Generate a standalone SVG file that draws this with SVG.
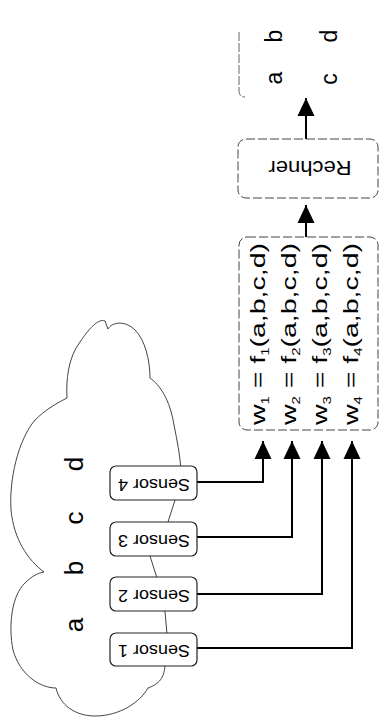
<svg xmlns="http://www.w3.org/2000/svg" width="379" height="727" viewBox="0 0 379 727">
<defs>
<style>
.cloud{fill:#fff;stroke:#444;stroke-width:1}
.sbox{fill:#fff;stroke:#222;stroke-width:1.2}
.dbox{fill:#fff;stroke:#444;stroke-width:1;stroke-dasharray:9 3}
.lt{font-family:"Liberation Sans",Arial,sans-serif;fill:#000}
.letter{font-size:26px;text-anchor:middle}
.oletter{font-size:23px;text-anchor:middle}
.sen{font-size:16.5px;text-anchor:middle}
.rech{font-size:19.5px;text-anchor:middle}
.f{font-size:21px}
.sub{font-size:11px}
.con{fill:none;stroke:#000;stroke-width:2}
</style>
<marker id="ah" markerUnits="userSpaceOnUse" markerWidth="19" markerHeight="19" viewBox="0 0 19 19" refX="18" refY="9.5" orient="auto">
<path d="M0,1 L18,9.5 L0,18 Z" fill="#000"/>
</marker>
</defs>

<g id="cloud">
<path class="cloud" d="M67,398 C66,380 68,358 80,342 C88,330 98,318 105,321 L108,329 C112,322 125,320 135,330 C145,340 150,360 150,378 C160,385 170,400 174,425 C177,440 180,455 181,470 L175,500 L168,522 L150,556 L157,578 L165,612 L167,634 L165,666 C164,675 162,683 148,688 C140,702 120,716 95,716 C75,716 60,705 56,688 C40,688 20,675 13,650 C8,625 12,595 25,583 C32,576 38,573 44,572 C28,560 14,540 11,510 C9,480 18,440 35,420 C45,410 57,403 67,398 Z"/>
<text class="lt letter" transform="translate(83,625) rotate(-90)">a</text>
<text class="lt letter" transform="translate(83,568) rotate(-90)">b</text>
<text class="lt letter" transform="translate(83,518) rotate(-90)">c</text>
<text class="lt letter" transform="translate(83,464) rotate(-90)">d</text>
</g>

<g id="connectors">
<path class="con" d="M197,648 H352 V441" marker-end="url(#ah)"/>
<path class="con" d="M197,594 H322 V441" marker-end="url(#ah)"/>
<path class="con" d="M197,537 H292 V441" marker-end="url(#ah)"/>
<path class="con" d="M197,482 H263 V441" marker-end="url(#ah)"/>
<path class="con" d="M306,237 V205" marker-end="url(#ah)"/>
<path class="con" d="M306,139 V98" marker-end="url(#ah)"/>
</g>

<g id="sensor1">
<rect class="sbox" x="110" y="633" width="87" height="33" rx="6"/>
<text class="lt sen" transform="translate(154,645) rotate(180)" textLength="72" lengthAdjust="spacingAndGlyphs">Sensor 1</text>
</g>
<g id="sensor2">
<rect class="sbox" x="110" y="577" width="87" height="34" rx="6"/>
<text class="lt sen" transform="translate(154,590) rotate(180)" textLength="72" lengthAdjust="spacingAndGlyphs">Sensor 2</text>
</g>
<g id="sensor3">
<rect class="sbox" x="110" y="522" width="87" height="34" rx="6"/>
<text class="lt sen" transform="translate(154,535) rotate(180)" textLength="72" lengthAdjust="spacingAndGlyphs">Sensor 3</text>
</g>
<g id="sensor4">
<rect class="sbox" x="110" y="466" width="87" height="34" rx="6"/>
<text class="lt sen" transform="translate(154,479) rotate(180)" textLength="72" lengthAdjust="spacingAndGlyphs">Sensor 4</text>
</g>

<g id="formulas">
<rect class="dbox" x="239" y="237" width="139" height="193" rx="8"/>
<text class="lt f" transform="translate(265,425) rotate(-90)" textLength="182" lengthAdjust="spacingAndGlyphs">w<tspan class="sub" dy="4">1</tspan><tspan dy="-4"> = f</tspan><tspan class="sub" dy="4">1</tspan><tspan dy="-4">(a,b,c,d)</tspan></text>
<text class="lt f" transform="translate(296,425) rotate(-90)" textLength="182" lengthAdjust="spacingAndGlyphs">w<tspan class="sub" dy="4">2</tspan><tspan dy="-4"> = f</tspan><tspan class="sub" dy="4">2</tspan><tspan dy="-4">(a,b,c,d)</tspan></text>
<text class="lt f" transform="translate(327,425) rotate(-90)" textLength="182" lengthAdjust="spacingAndGlyphs">w<tspan class="sub" dy="4">3</tspan><tspan dy="-4"> = f</tspan><tspan class="sub" dy="4">3</tspan><tspan dy="-4">(a,b,c,d)</tspan></text>
<text class="lt f" transform="translate(358,425) rotate(-90)" textLength="182" lengthAdjust="spacingAndGlyphs">w<tspan class="sub" dy="4">4</tspan><tspan dy="-4"> = f</tspan><tspan class="sub" dy="4">4</tspan><tspan dy="-4">(a,b,c,d)</tspan></text>
</g>

<g id="rechner">
<rect class="dbox" x="238" y="139" width="140" height="59" rx="8"/>
<text class="lt rech" transform="translate(310,161) rotate(180)" textLength="83" lengthAdjust="spacingAndGlyphs">Rechner</text>
</g>

<g id="output">
<path d="M239,32 V91 Q239,97 245,97" fill="none" stroke="#666" stroke-width="1" stroke-dasharray="9 2"/>
<text class="lt oletter" transform="translate(282,78) rotate(-90)">a</text>
<text class="lt oletter" transform="translate(282,36) rotate(-90)">b</text>
<text class="lt oletter" transform="translate(337,79) rotate(-90)">c</text>
<text class="lt oletter" transform="translate(337,36) rotate(-90)">d</text>
</g>
</svg>
